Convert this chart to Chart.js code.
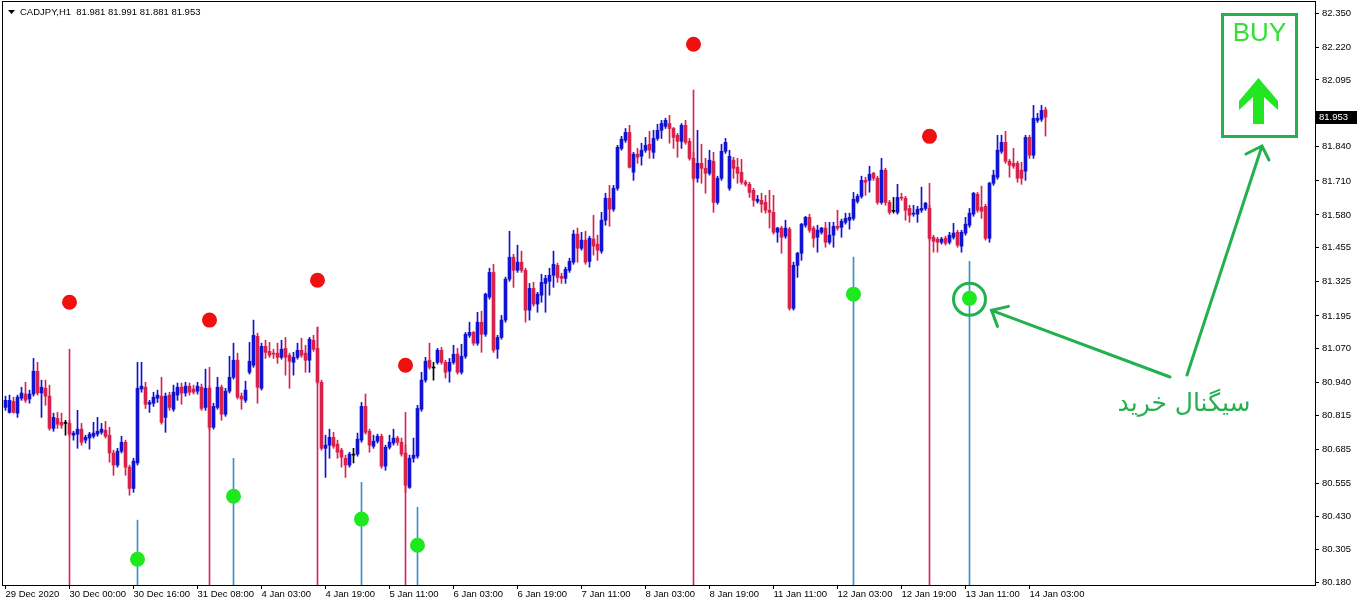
<!DOCTYPE html>
<html>
<head>
<meta charset="utf-8">
<title>CADJPY,H1</title>
<script src="https://cdn.jsdelivr.net/npm/chart.js@4.4.1/dist/chart.umd.min.js"></script>
<style>
  html, body { margin: 0; padding: 0; background: #fff; }
  canvas { display: block; }
</style>
</head>
<body>
<canvas id="chart" width="1360" height="600"></canvas>
<script>
// H1 candles, 29 Dec 2020 08:00 .. 14 Jan 2021 (one entry per bar)
const opens = [
  80.846,80.827,80.869,80.824,80.881,80.897,80.878,80.897,80.984,80.901,
  80.919,80.889,80.766,80.804,80.789,80.785,80.785,80.740,80.744,80.763,
  80.721,80.729,80.736,80.744,80.751,80.759,80.740,80.672,80.626,80.679,
  80.713,80.618,80.537,80.634,80.916,80.923,80.858,80.862,80.881,80.889,
  80.808,80.893,80.839,80.893,80.923,80.901,80.927,80.916,80.908,80.923,
  80.846,80.919,80.770,80.846,80.923,80.820,80.908,80.961,81.026,80.889,
  80.873,80.980,81.007,81.117,80.919,81.079,81.060,81.053,81.053,81.037,
  81.071,81.045,81.018,81.037,81.064,81.053,81.026,81.102,81.071,80.942,
  80.690,80.702,80.732,80.706,80.683,80.652,80.626,80.664,80.668,80.721,
  80.850,80.755,80.698,80.717,80.736,80.622,80.694,80.710,80.729,80.713,
  80.672,80.541,80.652,80.660,80.839,80.950,81.026,80.996,81.018,81.064,
  81.018,80.984,81.018,81.049,80.980,81.041,81.121,81.132,81.091,81.171,
  81.125,81.267,81.361,81.068,81.113,81.179,81.335,81.419,81.369,81.400,
  81.369,81.217,81.300,81.240,81.274,81.319,81.327,81.350,81.388,81.346,
  81.338,81.369,81.400,81.507,81.453,81.484,81.403,81.488,81.469,81.442,
  81.560,81.644,81.602,81.682,81.834,81.865,81.895,81.743,81.812,81.804,
  81.827,81.850,81.819,81.872,81.903,81.918,81.929,81.910,81.884,81.861,
  81.922,81.861,81.796,81.720,81.777,81.758,81.739,81.785,81.628,81.720,
  81.823,81.682,81.789,81.762,81.743,81.705,81.697,81.674,81.632,81.636,
  81.628,81.598,81.590,81.514,81.530,81.499,81.526,81.224,81.388,81.434,
  81.541,81.571,81.530,81.495,81.514,81.530,81.476,81.503,81.537,81.533,
  81.552,81.560,81.567,81.632,81.651,81.712,81.712,81.739,81.720,81.628,
  81.751,81.628,81.594,81.590,81.647,81.644,81.605,81.583,81.583,81.598,
  81.605,81.605,81.495,81.488,81.476,81.491,81.476,81.495,81.514,81.461,
  81.511,81.541,81.583,81.659,81.609,81.613,81.491,81.701,81.724,81.823,
  81.857,81.785,81.777,81.777,81.751,81.747,81.876,81.808,81.941,81.945,
  81.981
];
const highs = [
  80.889,80.893,80.885,80.893,80.923,80.942,80.912,81.033,81.018,80.950,
  80.950,80.931,80.824,80.827,80.824,80.797,80.797,80.755,80.835,80.785,
  80.740,80.751,80.789,80.808,80.785,80.793,80.770,80.683,80.690,80.736,
  80.721,80.626,80.652,81.018,81.018,80.942,80.873,80.904,80.912,80.961,
  80.901,80.904,80.931,80.939,80.939,80.942,80.939,80.931,80.942,80.935,
  80.992,80.927,80.862,80.961,80.931,80.919,81.041,81.091,81.053,80.901,
  80.946,81.094,81.179,81.129,81.091,81.102,81.094,81.068,81.091,81.102,
  81.113,81.053,81.056,81.091,81.110,81.083,81.113,81.121,81.152,80.950,
  80.740,80.763,80.751,80.721,80.690,80.664,80.675,80.690,80.748,80.865,
  80.897,80.763,80.740,80.744,80.744,80.702,80.740,80.763,80.736,80.729,
  80.702,80.664,80.729,80.854,80.980,81.037,81.091,81.018,81.071,81.075,
  81.026,81.033,81.083,81.071,81.087,81.132,81.171,81.136,81.209,81.213,
  81.282,81.377,81.392,81.121,81.197,81.343,81.518,81.430,81.465,81.442,
  81.377,81.319,81.323,81.285,81.354,81.350,81.377,81.442,81.396,81.358,
  81.381,81.415,81.522,81.530,81.514,81.518,81.499,81.579,81.503,81.590,
  81.663,81.693,81.693,81.846,81.880,81.910,81.922,81.819,81.834,81.854,
  81.876,81.899,81.903,81.926,81.941,81.949,81.960,81.914,81.891,81.929,
  81.941,81.872,81.819,81.903,81.850,81.796,81.827,81.819,81.728,81.850,
  81.872,81.827,81.800,81.796,81.792,81.712,81.705,81.682,81.655,81.663,
  81.655,81.674,81.655,81.533,81.537,81.560,81.533,81.400,81.438,81.548,
  81.575,81.583,81.537,81.541,81.533,81.552,81.552,81.552,81.598,81.564,
  81.587,81.587,81.666,81.659,81.728,81.724,81.766,81.743,81.728,81.796,
  81.758,81.636,81.647,81.697,81.663,81.651,81.617,81.617,81.613,81.686,
  81.628,81.617,81.503,81.495,81.495,81.499,81.514,81.548,81.522,81.522,
  81.571,81.605,81.666,81.666,81.690,81.621,81.705,81.751,81.884,81.884,
  81.899,81.792,81.834,81.785,81.781,81.884,81.884,81.998,81.968,81.998,
  81.991
];
const lows = [
  80.835,80.824,80.824,80.808,80.873,80.865,80.862,80.889,80.893,80.808,
  80.854,80.759,80.755,80.766,80.766,80.740,80.736,80.721,80.690,80.702,
  80.710,80.687,80.729,80.736,80.744,80.729,80.637,80.587,80.618,80.672,
  80.587,80.511,80.522,80.626,80.904,80.842,80.827,80.850,80.865,80.782,
  80.751,80.835,80.831,80.873,80.858,80.889,80.893,80.897,80.897,80.835,
  80.835,80.759,80.763,80.839,80.797,80.812,80.901,80.954,80.878,80.839,
  80.865,80.973,80.999,80.862,80.912,81.033,81.037,81.033,81.014,81.030,
  80.969,80.919,80.969,81.030,81.037,80.980,80.980,81.060,80.935,80.683,
  80.579,80.652,80.690,80.652,80.618,80.579,80.618,80.634,80.660,80.713,
  80.744,80.675,80.690,80.710,80.614,80.606,80.687,80.702,80.702,80.660,
  80.522,80.537,80.637,80.652,80.831,80.942,80.992,80.950,81.011,81.011,
  80.958,80.942,81.011,80.973,80.973,81.033,81.113,81.083,81.083,81.056,
  81.117,81.259,81.056,81.033,81.106,81.171,81.327,81.304,81.361,81.361,
  81.171,81.179,81.232,81.209,81.247,81.209,81.274,81.304,81.323,81.319,
  81.319,81.361,81.392,81.400,81.446,81.392,81.381,81.427,81.407,81.434,
  81.541,81.537,81.594,81.674,81.827,81.857,81.759,81.712,81.777,81.770,
  81.819,81.796,81.796,81.865,81.872,81.910,81.854,81.834,81.800,81.834,
  81.850,81.789,81.712,81.705,81.701,81.663,81.732,81.590,81.621,81.712,
  81.815,81.674,81.720,81.701,81.697,81.690,81.647,81.613,81.625,81.590,
  81.587,81.530,81.507,81.476,81.434,81.491,81.217,81.217,81.342,81.407,
  81.533,81.514,81.457,81.438,81.507,81.457,81.469,81.457,81.522,81.495,
  81.545,81.526,81.560,81.625,81.644,81.655,81.667,81.712,81.621,81.621,
  81.617,81.583,81.587,81.583,81.636,81.560,81.552,81.575,81.552,81.590,
  81.598,81.484,81.438,81.438,81.469,81.465,81.469,81.488,81.457,81.438,
  81.503,81.533,81.575,81.590,81.567,81.484,81.476,81.693,81.716,81.815,
  81.777,81.724,81.758,81.705,81.697,81.712,81.796,81.796,81.933,81.937,
  81.881
];
const closes = [
  80.873,80.873,80.827,80.885,80.901,80.873,80.897,80.984,80.901,80.923,
  80.889,80.766,80.808,80.782,80.778,80.785,80.744,80.748,80.763,80.713,
  80.732,80.744,80.748,80.755,80.763,80.736,80.672,80.626,80.679,80.713,
  80.618,80.537,80.641,80.919,80.927,80.858,80.865,80.885,80.893,80.789,
  80.889,80.846,80.904,80.923,80.901,80.927,80.904,80.904,80.927,80.842,
  80.919,80.770,80.850,80.923,80.820,80.908,80.961,81.026,80.885,80.878,
  80.912,81.022,81.121,80.923,81.079,81.056,81.045,81.049,81.037,81.068,
  81.037,81.022,81.037,81.064,81.045,81.026,81.106,81.068,80.942,80.690,
  80.702,80.732,80.698,80.675,80.656,80.626,80.668,80.664,80.725,80.850,
  80.751,80.702,80.717,80.736,80.622,80.694,80.713,80.729,80.713,80.668,
  80.549,80.652,80.664,80.842,80.950,81.022,80.999,80.996,81.064,81.018,
  80.980,81.018,81.049,80.980,81.041,81.125,81.132,81.091,81.171,81.125,
  81.278,81.361,81.064,81.113,81.179,81.335,81.419,81.369,81.400,81.369,
  81.217,81.300,81.240,81.278,81.323,81.338,81.350,81.392,81.342,81.338,
  81.373,81.403,81.507,81.453,81.484,81.400,81.491,81.461,81.446,81.560,
  81.644,81.602,81.682,81.838,81.869,81.895,81.762,81.812,81.800,81.827,
  81.846,81.827,81.872,81.903,81.929,81.941,81.910,81.876,81.861,81.922,
  81.857,81.796,81.720,81.777,81.758,81.739,81.789,81.628,81.720,81.823,
  81.857,81.804,81.758,81.739,81.705,81.697,81.666,81.636,81.640,81.621,
  81.598,81.590,81.514,81.530,81.495,81.530,81.224,81.388,81.434,81.545,
  81.571,81.522,81.491,81.522,81.530,81.476,81.503,81.537,81.530,81.556,
  81.567,81.571,81.640,81.651,81.712,81.705,81.735,81.720,81.628,81.751,
  81.628,81.590,81.594,81.647,81.644,81.598,81.579,81.587,81.602,81.605,
  81.625,81.491,81.480,81.476,81.488,81.472,81.503,81.511,81.465,81.514,
  81.545,81.587,81.663,81.598,81.594,81.491,81.701,81.732,81.827,81.857,
  81.785,81.770,81.766,81.720,81.720,81.876,81.808,81.949,81.949,81.979,
  81.953
];

// indicator signals: bar index, top of the histogram line, dot price
const sellIdx = [16, 51, 78, 100, 172, 231];
const sellTop = [81.068, 80.999, 81.152, 80.827, 82.056, 81.701];
const sellDot = [81.247, 81.179, 81.331, 81.007, 82.231, 81.880];
const buyIdx = [33, 57, 89, 103, 212, 241];
const buyTop = [80.416, 80.652, 80.560, 80.465, 81.419, 81.403];
const buyDot = [80.267, 80.507, 80.420, 80.320, 81.278, 81.262];

// axis labels
const dateTickIdx = [0, 16, 32, 48, 64, 80, 96, 112, 128, 144, 160, 176, 192, 208, 224, 240, 256];
const dateLabels = ['29 Dec 2020', '30 Dec 00:00', '30 Dec 16:00', '31 Dec 08:00', '4 Jan 03:00',
  '4 Jan 19:00', '5 Jan 11:00', '6 Jan 03:00', '6 Jan 19:00', '7 Jan 11:00', '8 Jan 03:00',
  '8 Jan 19:00', '11 Jan 11:00', '12 Jan 03:00', '12 Jan 19:00', '13 Jan 11:00', '14 Jan 03:00'];
const priceLabels = ['80.180', '80.305', '80.430', '80.555', '80.685', '80.815', '80.940', '81.070',
  '81.195', '81.325', '81.455', '81.580', '81.710', '81.840', '81.965', '82.095', '82.220', '82.350'];

const symbol = 'CADJPY,H1';
const lastPrice = 81.953;

const yMin = 80.1686, yMax = 82.3924;
const BULL = '#1212d2', BEAR = '#d8224c', DOJI = '#000000';
const GREEN = '#22b14c';

const colors = opens.map((o, i) => closes[i] > o ? BULL : closes[i] < o ? BEAR : DOJI);
const bodies = opens.map((o, i) => ({ x: i, y: [Math.min(o, closes[i]), Math.max(o, closes[i])] }));
const wicks = lows.map((l, i) => ({ x: i, y: [l, highs[i]] }));

const overlay = {
  id: 'overlay',
  afterDraw(chart) {
    const { ctx, chartArea: a, scales: { x, y } } = chart;
    ctx.save();

    // chart frame
    ctx.strokeStyle = '#000';
    ctx.lineWidth = 1;
    ctx.strokeRect(a.left - 0.5, a.top - 0.5, a.right - a.left + 1, a.bottom - a.top + 1);

    // header line
    ctx.fillStyle = '#000';
    ctx.beginPath();
    ctx.moveTo(8, 10); ctx.lineTo(15, 10); ctx.lineTo(11.5, 14); ctx.closePath();
    ctx.fill();
    ctx.font = "9.5px 'Liberation Sans', Arial, sans-serif";
    ctx.textBaseline = 'middle';
    ctx.textAlign = 'left';
    const last = opens.length - 1;
    const head = symbol + '  ' + [opens[last], highs[last], lows[last], closes[last]].map(v => v.toFixed(3)).join(' ');
    ctx.fillText(head, 20, 12);

    // current price marker
    const py = Math.round(y.getPixelForValue(lastPrice));
    ctx.fillRect(a.right + 1, py - 6, 41, 13);
    ctx.fillStyle = '#fff';
    ctx.fillText(lastPrice.toFixed(3), a.right + 4, py + 0.5);

    // BUY box
    ctx.strokeStyle = GREEN;
    ctx.lineWidth = 3;
    ctx.strokeRect(1222.5, 14.5, 74, 122);
    ctx.fillStyle = '#33e033';
    ctx.font = "26px 'Liberation Sans', Arial, sans-serif";
    ctx.textAlign = 'center';
    ctx.textBaseline = 'alphabetic';
    ctx.fillText('BUY', 1259.5, 41);
    ctx.beginPath();
    ctx.moveTo(1258.5, 78);
    ctx.lineTo(1278, 101); ctx.lineTo(1278, 110); ctx.lineTo(1264, 97);
    ctx.lineTo(1264, 124); ctx.lineTo(1253, 124); ctx.lineTo(1253, 97);
    ctx.lineTo(1239, 110); ctx.lineTo(1239, 101);
    ctx.closePath();
    ctx.fillStyle = '#22e622';
    ctx.fill();

    // circle around the last buy signal
    const k = buyIdx.length - 1;
    const cx = x.getPixelForValue(buyIdx[k]);
    const cy = y.getPixelForValue(buyDot[k]);
    ctx.strokeStyle = GREEN;
    ctx.lineWidth = 3;
    ctx.beginPath();
    ctx.arc(cx, cy + 1, 16, 0, Math.PI * 2);
    ctx.stroke();

    // pointer arrows
    const arrow = (x0, y0, x1, y1, h1, h2) => {
      ctx.beginPath();
      ctx.moveTo(x0, y0); ctx.lineTo(x1, y1);
      ctx.moveTo(h1[0], h1[1]); ctx.lineTo(x1, y1); ctx.lineTo(h2[0], h2[1]);
      ctx.stroke();
    };
    ctx.lineCap = 'round';
    arrow(1170, 377, cx + 22, cy + 12, [cx + 39, cy + 8], [cx + 28, cy + 28]);
    arrow(1187, 375, 1262, 146, [1246, 154], [1269, 160]);

    ctx.fillStyle = GREEN;
    ctx.font = "25px 'DejaVu Sans', sans-serif";
    ctx.textAlign = 'center';
    ctx.fillText('سیگنال خرید', 1184, 411);

    ctx.restore();
  }
};

Chart.defaults.font.family = "'Liberation Sans', Arial, sans-serif";
Chart.defaults.font.size = 9.5;
Chart.defaults.color = '#000';

new Chart(document.getElementById('chart'), {
  type: 'bar',
  data: {
    datasets: [
      { type: 'scatter', data: sellIdx.map((v, i) => ({ x: v, y: sellDot[i] })),
        backgroundColor: '#f01010', pointRadius: 7.5, pointBorderWidth: 0, order: 0 },
      { type: 'scatter', data: buyIdx.map((v, i) => ({ x: v, y: buyDot[i] })),
        backgroundColor: '#1ee81e', pointRadius: 7.5, pointBorderWidth: 0, order: 0 },
      { data: bodies, backgroundColor: colors, barThickness: 3, minBarLength: 1, grouped: false, order: 1 },
      { data: wicks, backgroundColor: colors, barThickness: 1, grouped: false, order: 2 },
      { data: sellIdx.map((v, i) => ({ x: v, y: [yMin, sellTop[i]] })),
        backgroundColor: '#d02a5a', barThickness: 1, grouped: false, order: 3 },
      { data: buyIdx.map((v, i) => ({ x: v, y: [yMin, buyTop[i]] })),
        backgroundColor: '#3a90cc', barThickness: 1, grouped: false, order: 3 }
    ]
  },
  options: {
    responsive: false,
    animation: false,
    devicePixelRatio: 1,
    events: [],
    layout: { autoPadding: false, padding: { left: 3, top: 2, right: 0, bottom: 0 } },
    plugins: { legend: { display: false }, tooltip: { enabled: false } },
    scales: {
      x: {
        type: 'linear',
        min: -0.625,
        max: 327.375,
        offset: false,
        afterBuildTicks: s => { s.ticks = dateTickIdx.map(v => ({ value: v })); },
        afterFit: s => { s.height = 15; s.paddingLeft = 0; s.paddingRight = 0; },
        ticks: { autoSkip: false, maxRotation: 0, minRotation: 0, align: 'start', padding: 0,
          callback: (v, i) => dateLabels[i] },
        grid: { drawOnChartArea: false, offset: false, tickLength: 4, color: '#000' },
        border: { display: false }
      },
      y: {
        position: 'right',
        min: yMin,
        max: yMax,
        afterBuildTicks: s => { s.ticks = priceLabels.map(v => ({ value: parseFloat(v) })); },
        afterFit: s => { s.width = 45; s.paddingTop = 0; s.paddingBottom = 0; },
        ticks: { padding: 3, callback: (v, i) => priceLabels[i] },
        grid: { drawOnChartArea: false, tickLength: 4, color: '#000' },
        border: { display: false }
      }
    }
  },
  plugins: [overlay]
});
</script>
</body>
</html>
